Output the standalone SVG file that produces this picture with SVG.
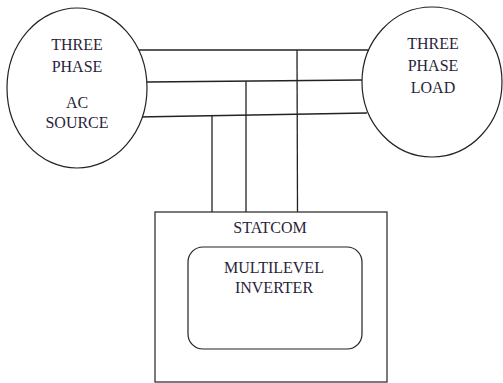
<svg xmlns="http://www.w3.org/2000/svg" width="503" height="383" viewBox="0 0 503 383">
<style>
.s{fill:#fff;stroke:#222;stroke-width:1.2}
.w{fill:none;stroke:#222;stroke-width:1.3}
text{font-family:"Liberation Serif","Times New Roman",serif;font-size:16px;fill:#2a1f3a;text-anchor:middle}
</style>
<rect width="503" height="383" fill="#fff"/>
<g id="connectors">
<line class="w" x1="138" y1="50" x2="370" y2="50"/>
<line class="w" x1="147" y1="82" x2="362" y2="80"/>
<line class="w" x1="137" y1="117" x2="367" y2="113"/>
<line class="w" x1="212" y1="115.5" x2="212" y2="212"/>
<line class="w" x1="246" y1="81.5" x2="246" y2="212"/>
<line class="w" x1="297" y1="50" x2="297.5" y2="212"/>
</g>
<g id="source">
<ellipse class="s" cx="77" cy="88" rx="70" ry="80"/>
<text x="77" y="50">THREE</text>
<text x="77" y="72">PHASE</text>
<text x="77" y="108">AC</text>
<text x="77" y="128">SOURCE</text>
</g>
<g id="load">
<ellipse class="s" cx="432" cy="82" rx="70" ry="75"/>
<text x="433" y="49">THREE</text>
<text x="433" y="71">PHASE</text>
<text x="433" y="93">LOAD</text>
</g>
<g id="statcom">
<rect class="s" x="155" y="212" width="232" height="170"/>
<text x="270" y="233">STATCOM</text>
</g>
<g id="inverter">
<rect class="s" x="188" y="247" width="174" height="102" rx="15"/>
<text x="274" y="273">MULTILEVEL</text>
<text x="274" y="293">INVERTER</text>
</g>
</svg>
